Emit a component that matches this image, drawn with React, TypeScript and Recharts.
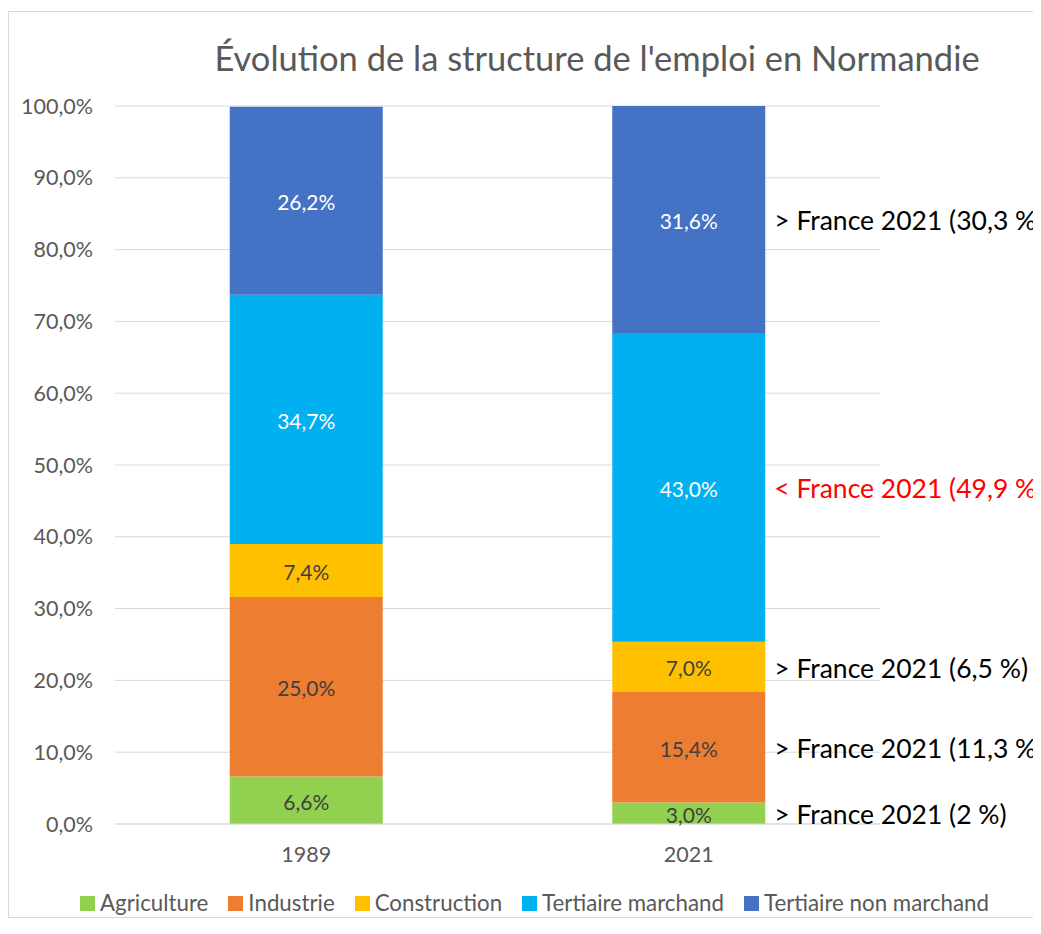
import React from 'react';
import {
  Bar,
  BarChart,
  CartesianGrid,
  LabelList,
  Legend,
  XAxis,
  YAxis,
} from 'recharts';

const years = ['1989', '2021'];
const agriculture = [6.6, 3.0];
const industrie = [25.0, 15.4];
const construction = [7.4, 7.0];
const tertiaireMarchand = [34.7, 43.0];
const tertiaireNonMarchand = [26.2, 31.6];
const yTicks = [0, 10, 20, 30, 40, 50, 60, 70, 80, 90, 100];

// France 2021 comparison, one per series (bottom to top), shown beside the 2021 bar
const franceNotes = [
  '> France 2021 (2 %)',
  '> France 2021 (11,3 %)',
  '> France 2021 (6,5 %)',
  '< France 2021 (49,9 %)',
  '> France 2021 (30,3 %)',
];
const franceNoteColors = ['#000000', '#000000', '#000000', '#ff0000', '#000000'];

const series = [
  { key: 'agriculture', name: 'Agriculture', color: '#92D050', text: '#404040' },
  { key: 'industrie', name: 'Industrie', color: '#ED7D31', text: '#404040' },
  { key: 'construction', name: 'Construction', color: '#FFC000', text: '#404040' },
  { key: 'tertiaireMarchand', name: 'Tertiaire marchand', color: '#00B0F0', text: '#ffffff' },
  { key: 'tertiaireNonMarchand', name: 'Tertiaire non marchand', color: '#4472C4', text: '#ffffff' },
];

const data = years.map((year, i) => ({
  year,
  agriculture: agriculture[i],
  industrie: industrie[i],
  construction: construction[i],
  tertiaireMarchand: tertiaireMarchand[i],
  tertiaireNonMarchand: tertiaireNonMarchand[i],
}));

const FONT = 'Lato, "Open Sans", sans-serif';
const fmtPct = (v: number) => v.toFixed(1).replace('.', ',') + '%';

function makeValueLabel(fill: string) {
  return (props: any) => {
    const { x, y, width, height, value } = props;
    return (
      <text
        x={x + width / 2}
        y={y + height / 2 + 1}
        fill={fill}
        fontSize={21}
        fontFamily={FONT}
        textAnchor="middle"
        dominantBaseline="central"
      >
        {fmtPct(Number(value))}
      </text>
    );
  };
}

function makeNoteLabel(seriesIdx: number) {
  return (props: any) => {
    const { x, y, width, height, index } = props;
    if (index !== 1) return null;
    return (
      <text
        x={x + width + 9}
        y={y + height / 2 + 1}
        fill={franceNoteColors[seriesIdx]}
        fontSize={26.5}
        fontFamily={FONT}
        dominantBaseline="central"
      >
        {franceNotes[seriesIdx]}
      </text>
    );
  };
}

// legend in series order, Excel-like spacing
function LegendContent() {
  return (
    <div style={{ display: 'flex', alignItems: 'center', gap: 20 }}>
      {series.map((s) => (
        <div key={s.key} style={{ display: 'flex', alignItems: 'center' }}>
          <span
            style={{ width: 15, height: 15, background: s.color, marginRight: 5, display: 'inline-block' }}
          />
          <span style={{ color: '#595959', fontSize: 22.3, lineHeight: '24px' }}>{s.name}</span>
        </div>
      ))}
    </div>
  );
}

export default function App() {
  return (
    <div style={{ width: 1033, height: 912, overflow: 'hidden' }}>
      <div
        style={{
          marginTop: 3,
          width: 1200,
          height: 905,
          border: '1px solid #d9d9d9',
          position: 'relative',
          fontFamily: FONT,
        }}
      >
        <div
          style={{
            position: 'absolute',
            left: 0,
            top: 25,
            width: 1176,
            textAlign: 'center',
            fontSize: 34.5,
            color: '#595959',
          }}
        >
          Évolution de la structure de l'emploi en Normandie
        </div>
        <BarChart
          width={1160}
          height={905}
          data={data}
          margin={{ top: 94, right: 289, left: 0, bottom: 39 }}
          barCategoryGap="30%"
          style={{ overflow: 'visible' }}
        >
          <CartesianGrid stroke="#d9d9d9" vertical={false} />
          <XAxis
            dataKey="year"
            tick={{ fill: '#595959', fontSize: 21.5, fontFamily: FONT }}
            tickLine={false}
            axisLine={{ stroke: '#d9d9d9' }}
            tickMargin={17}
            height={30}
          />
          <YAxis
            domain={[0, 100]}
            ticks={yTicks}
            tickFormatter={fmtPct}
            tick={{ fill: '#595959', fontSize: 21.5, fontFamily: FONT }}
            tickLine={false}
            axisLine={false}
            tickSize={14}
            tickMargin={8}
            width={106}
          />
          <Legend
            verticalAlign="bottom"
            content={<LegendContent />}
            wrapperStyle={{ position: 'absolute', left: 71, top: 879, width: 980 }}
          />
          {series.map((s, i) => (
            <Bar
              key={s.key}
              dataKey={s.key}
              name={s.name}
              stackId="a"
              fill={s.color}
              isAnimationActive={false}
            >
              <LabelList dataKey={s.key} content={makeValueLabel(s.text)} />
              <LabelList dataKey={s.key} content={makeNoteLabel(i)} />
            </Bar>
          ))}
        </BarChart>
      </div>
    </div>
  );
}
